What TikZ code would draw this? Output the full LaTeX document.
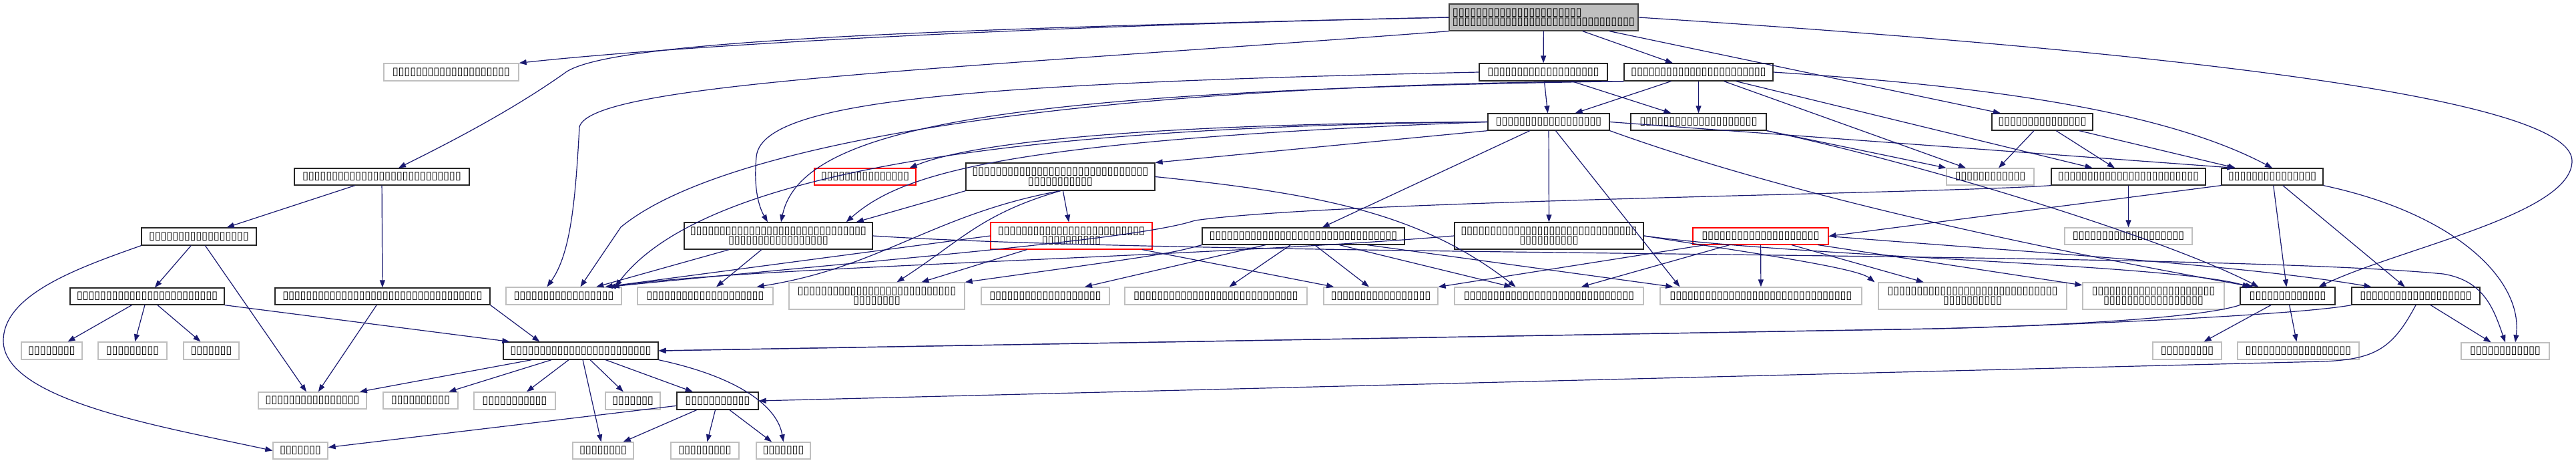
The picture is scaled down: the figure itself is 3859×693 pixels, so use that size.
\documentclass[tikz,border=0pt]{standalone}
\usepackage{fontspec}
\newfontfamily\tofufont{DejaVu Sans}
\usetikzlibrary{arrows.meta,calc}
\definecolor{edgec}{RGB}{25,25,112}
\newcommand\tfu[1]{\foreach\tfi in {1,...,#1}{\makebox[8.8pt]{▯}}}
\newcommand\mknode[7]{\node[#1,minimum width={#4-#3},minimum height={#6-#5}] (#2) at ({(#3+#4)/2},{(#5+#6)/2}) {#7};}
\tikzset{
 base/.style={rectangle,inner sep=0pt,font=\tofufont\fontsize{16.5}{14.5}\selectfont,text=black,align=center},
 blk/.style={base,draw=black!85,line width=1.3pt,fill=white},
 lgt/.style={base,draw=black!25,line width=1.3pt,fill=white},
 redn/.style={base,draw=red,line width=1.1pt,fill=white},
 topn/.style={base,draw=black!75,fill=black!25,line width=1.3pt,align=left},
 e/.style={draw=edgec,line width=1.2pt,-{Triangle[length=11pt,width=8pt]}},
}
\begin{document}
\begin{tikzpicture}[x=1pt,y=-1pt]
\path[use as bounding box,fill=white] (0,0) rectangle (3859,693);
% nodes
\mknode{topn}{n0}{2171}{2454}{6}{46}{\tfu{22}\\\tfu{31}}
\mknode{lgt}{n1}{575}{777}{95}{121}{\tfu{20}}
\mknode{blk}{n2}{2216}{2408}{95}{121}{\tfu{19}}
\mknode{blk}{n3}{2433}{2656}{95}{121}{\tfu{23}}
\mknode{blk}{n17}{2984}{3135}{170}{195}{\tfu{15}}
\mknode{blk}{n20}{2229}{2411}{170}{195}{\tfu{18}}
\mknode{blk}{n21}{2443}{2646}{170}{195}{\tfu{20}}
\mknode{blk}{n4}{441}{703}{252}{277}{\tfu{27}}
\mknode{redn}{r1}{1220}{1372}{252}{277}{\tfu{15}}
\mknode{blk}{n11}{1447}{1730}{244}{285}{\tfu{30}\\\tfu{11}}
\mknode{lgt}{l3}{2916}{3047}{252}{277}{\tfu{12}}
\mknode{blk}{n18}{3073}{3304}{252}{277}{\tfu{24}}
\mknode{blk}{n19}{3328}{3480}{252}{277}{\tfu{15}}
\mknode{blk}{n5}{212}{384}{341}{367}{\tfu{17}}
\mknode{blk}{n12}{1025}{1307}{333}{373}{\tfu{30}\\\tfu{17}}
\mknode{redn}{r2}{1484}{1726}{333}{373}{\tfu{25}\\\tfu{10}}
\mknode{blk}{n13}{1801}{2104}{341}{366}{\tfu{32}}
\mknode{blk}{n14}{2179}{2462}{333}{373}{\tfu{30}\\\tfu{10}}
\mknode{redn}{r3}{2536}{2739}{341}{366}{\tfu{20}}
\mknode{lgt}{l3b}{3093}{3284}{341}{366}{\tfu{19}}
\mknode{blk}{n6}{105}{336}{431}{456}{\tfu{24}}
\mknode{blk}{n7}{412}{734}{431}{456}{\tfu{34}}
\mknode{lgt}{l4a}{758}{931}{430}{456}{\tfu{17}}
\mknode{lgt}{l4b}{955}{1158}{430}{456}{\tfu{20}}
\mknode{lgt}{l4c}{1182}{1445}{423}{463}{\tfu{27}\\\tfu{8}}
\mknode{lgt}{l4d}{1470}{1662}{430}{456}{\tfu{19}}
\mknode{lgt}{l4e}{1685}{1958}{430}{456}{\tfu{28}}
\mknode{lgt}{l4f}{1983}{2154}{430}{456}{\tfu{17}}
\mknode{lgt}{l4g}{2179}{2462}{430}{456}{\tfu{29}}
\mknode{lgt}{l4h}{2487}{2789}{430}{456}{\tfu{31}}
\mknode{lgt}{l4i}{2814}{3096}{423}{463}{\tfu{29}\\\tfu{10}}
\mknode{lgt}{l4j}{3120}{3332}{423}{463}{\tfu{21}\\\tfu{17}}
\mknode{blk}{n15}{3356}{3498}{430}{456}{\tfu{13}}
\mknode{blk}{n16}{3523}{3715}{430}{456}{\tfu{19}}
\mknode{lgt}{l5a}{32}{123}{512}{538}{\tfu{8}}
\mknode{lgt}{l5b}{147}{250}{512}{538}{\tfu{9}}
\mknode{lgt}{l5c}{275}{358}{512}{538}{\tfu{7}}
\mknode{blk}{n9}{754}{986}{512}{538}{\tfu{24}}
\mknode{lgt}{l5e}{3225}{3328}{512}{538}{\tfu{9}}
\mknode{lgt}{l5f}{3352}{3534}{512}{538}{\tfu{18}}
\mknode{lgt}{l5g}{3687}{3819}{513}{538}{\tfu{12}}
\mknode{lgt}{l6a}{387}{549}{587}{612}{\tfu{16}}
\mknode{lgt}{l6b}{574}{686}{587}{612}{\tfu{10}}
\mknode{lgt}{l6c}{710}{832}{587}{613}{\tfu{11}}
\mknode{lgt}{l6d}{907}{989}{587}{613}{\tfu{7}}
\mknode{blk}{n10}{1014}{1136}{587}{613}{\tfu{11}}
\mknode{lgt}{l7a}{409}{491}{662}{687}{\tfu{7}}
\mknode{lgt}{l7b}{858}{949}{662}{687}{\tfu{8}}
\mknode{lgt}{l7c}{1005}{1107}{662}{687}{\tfu{9}}
\mknode{lgt}{l7d}{1133}{1214}{662}{687}{\tfu{7}}
% edges from n0
\draw[e] (n0.west) .. controls (1500,40) and (1000,70) .. (n1.north east);
\draw[e] (n0.west) .. controls (1300,45) and (900,65) .. (845,110) .. controls (760,170) and (660,220) .. ($(n4.north)+(25,0)$);
\draw[e] (n0.south west) .. controls (1400,105) and (885,125) .. (868,190) .. controls (862,300) and (855,380) .. ($(l4a.north)+(-25,0)$);
\draw[e] (n0) -- (n2);
\draw[e] (n0) -- (n3);
\draw[e] (n0) -- (n17);
\draw[e] (n0.east) .. controls (3300,80) and (3850,150) .. (3853,240) .. controls (3855,320) and (3600,370) .. ($(n15.north east)+(-25,0)$);
% n2, n3
\draw[e] (n2) -- (n20);
\draw[e] (n2) -- (n21);
\draw[e] (n3) -- (n20);
\draw[e] (n3) -- (n21);
\draw[e] (n2.west) .. controls (1450,125) and (1140,150) .. (1133,235) .. controls (1128,290) and (1140,315) .. ($(n12.north)+(-16,0)$);
\draw[e] (n3.south west) .. controls (1500,135) and (1200,190) .. ($(n12.north)+(4,0)$);
\draw[e] (n3.south west) .. controls (1700,125) and (1100,200) .. (930,340) -- ($(l4a.north)+(25,0)$);
\draw[e] (n3) -- (n18);
\draw[e] (n3) -- (l3);
\draw[e] (n3.east) .. controls (3000,130) and (3250,170) .. (n19.north);
% left part
\draw[e] (n4) -- (n5);
\draw[e] (n4) -- (n7);
\draw[e] (n5) -- (n6);
\draw[e] (n5) -- (l6a);
\draw[e] (n5.south west) .. controls (120,400) and (5,440) .. (5,510) .. controls (5,600) and (250,640) .. (l7a.west);
\draw[e] (n6) -- (l5a);
\draw[e] (n6) -- (l5b);
\draw[e] (n6) -- (l5c);
\draw[e] (n6.south east) -- ($(n9.north west)+(10,0)$);
\draw[e] (n7) -- (l6a);
\draw[e] (n7.south east) -- ($(n9.north west)+(55,0)$);
\draw[e] (n9) -- (l6a);
\draw[e] (n9) -- (l6b);
\draw[e] (n9) -- (l6c);
\draw[e] (n9) -- (l7b);
\draw[e] (n9) -- (l6d);
\draw[e] (n9) -- (n10);
\draw[e] (n9.south east) .. controls (1110,565) and (1165,610) .. (l7d.north);
\draw[e] (n10) -- (l7a);
\draw[e] (n10) -- (l7b);
\draw[e] (n10) -- (l7c);
\draw[e] (n10) -- (l7d);
% right part
\draw[e] (n15.south west) .. controls (3300,475) and (3100,487) .. (2900,492) -- (n9.east);
\draw[e] (n16.south west) .. controls (3450,470) and (3150,485) .. (2900,492) -- (n9.east);
\draw[e] (n16.south) .. controls (3585,520) and (3560,538) .. (3480,541) -- (n10.east);
\draw[e] (n15) -- (l5e);
\draw[e] (n15) -- (l5f);
\draw[e] (n16) -- (l5g);
\draw[e] (n19) -- (n15);
\draw[e] (n19) -- (n16);
\draw[e] (n19.south east) .. controls (3680,320) and (3780,420) .. ($(l5g.north)+(15,0)$);
\draw[e] (n19.south west) -- (r3.east);
\draw[e] (n12.east) .. controls (1800,385) and (3300,375) .. (3660,410) .. controls (3720,420) and (3735,460) .. (l5g.north);
\draw[e] (r3.east) .. controls (3000,375) and (3350,395) .. ($(n16.north west)+(30,0)$);
\draw[e] (n17) -- (l3);
\draw[e] (n17) -- (n18);
\draw[e] (n17) -- (n19);
\draw[e] (n18) -- (l3b);
\draw[e] (n18.south west) .. controls (2900,290) and (2000,300) .. (1790,330) .. controls (1700,360) and (1300,390) .. ($(l4a.north east)+(-20,0)$);
% n20, n21
\draw[e] (n20.west) .. controls (1500,190) and (1050,260) .. ($(l4a.north east)+(-10,0)$);
\draw[e] (n20.west) .. controls (1500,210) and (1350,260) .. ($(n12.north east)+(-40,0)$);
\draw[e] (n20.west) .. controls (1700,185) and (1450,215) .. ($(r1.north east)+(-10,0)$);
\draw[e] (n20.south west) -- (n11.north east);
\draw[e] (n20) -- (n13);
\draw[e] (n20) -- (n14);
\draw[e] (n20) -- ($(l4h.north west)+(30,0)$);
\draw[e] (n20.south east) .. controls (2700,300) and (3100,380) .. ($(n15.north west)+(20,0)$);
\draw[e] (n20.east) -- ($(n19.north west)+(20,0)$);
\draw[e] (n21.south east) -- (l3.north west);
\draw[e] (n21.south east) .. controls (2900,250) and (3250,360) .. ($(n15.north west)+(28,0)$);
% n11, n12, r2
\draw[e] (n11.south west) -- ($(n12.north east)+(-25,0)$);
\draw[e] (n11.south) .. controls (1400,320) and (1320,400) .. ($(l4b.north east)+(-25,0)$);
\draw[e] (n11.south) .. controls (1470,320) and (1440,360) .. ($(l4c.north)+(30,0)$);
\draw[e] (n11) -- (r2);
\draw[e] (n11.east) .. controls (1980,290) and (2130,320) .. ($(l4g.north)+(-50,0)$);
\draw[e] (n12) -- (l4a);
\draw[e] (n12) -- (l4b);
\draw[e] (r2.west) -- ($(l4a.north east)+(-25,0)$);
\draw[e] (r2) -- (l4c);
\draw[e] (r2) -- (l4f);
% n13, n14, r3
\draw[e] (n13.south west) .. controls (1750,380) .. (l4c.north east);
\draw[e] (n13) -- (l4d);
\draw[e] (n13) -- (l4e);
\draw[e] (n13) -- (l4f);
\draw[e] (n13) -- (l4g);
\draw[e] (n13) -- ($(l4h.north west)+(20,0)$);
\draw[e] (n14.west) .. controls (1800,385) and (1100,400) .. ($(l4a.north east)+(-15,0)$);
\draw[e] (n14.east) .. controls (2700,385) and (3250,395) .. ($(n15.north west)+(15,0)$);
\draw[e] (n14.east) .. controls (2600,375) and (2780,400) .. ($(l4i.north west)+(-5,0)$);
\draw[e] (r3) -- (l4h);
\draw[e] (r3) -- (l4i);
\draw[e] (r3) -- (l4j);
\draw[e] (r3) -- (l4g);
\draw[e] (r3) -- (l4f);
\end{tikzpicture}
\end{document}
